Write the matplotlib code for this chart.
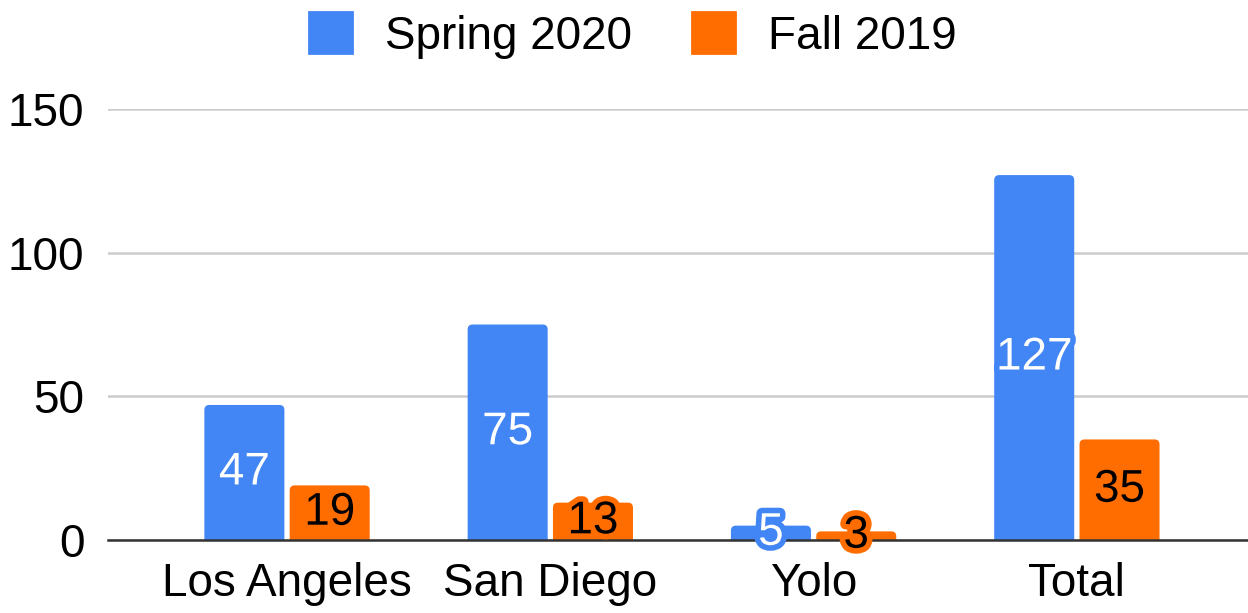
import matplotlib
matplotlib.use("Agg")
import matplotlib.pyplot as plt
import matplotlib.patheffects as pe
from matplotlib.patches import Patch, FancyBboxPatch
import numpy as np

plt.rcParams['font.family'] = ['Liberation Sans', 'DejaVu Sans']

categories = ["Los Angeles", "San Diego", "Yolo", "Total"]
spring_2020 = [47, 75, 5, 127]
fall_2019 = [19, 13, 3, 35]
series_names = ["Spring 2020", "Fall 2019"]
colors = ["#4285F4", "#FF6D01"]
y_ticks = [0, 50, 100, 150]

W, H = 1248, 613
fig = plt.figure(figsize=(W / 100, H / 100), dpi=100)
ax = fig.add_axes([108 / W, (H - 540) / H, (W - 108) / W, (540 - 109) / H])

x = np.arange(len(categories))
w = 0.304
off = 0.162
xlim = (-0.68, 3.65)
ylim = (0, 150)
ax.set_xlim(*xlim)
ax.set_ylim(*ylim)

# pixel scales for rounded corners
px_x = (xlim[1] - xlim[0]) / (W - 108)
px_y = (ylim[1] - ylim[0]) / (540 - 109)
aspect = px_y / px_x
rad = 5 * px_x

for xs, vals, c, tc in [(x - off, spring_2020, colors[0], "white"),
                        (x + off, fall_2019, colors[1], "black")]:
    bars = ax.bar(xs, vals, w, color=c, zorder=3)
    for r, v in zip(bars, vals):
        r.set_visible(False)
        p = FancyBboxPatch((r.get_x(), -3), r.get_width(), v + 3,
                           boxstyle=f"round,pad=0,rounding_size={rad}",
                           mutation_aspect=aspect, facecolor=c, edgecolor="none",
                           zorder=3)
        ax.add_patch(p)
        t = ax.text(r.get_x() + r.get_width() / 2, v / 2, str(v), ha="center", va="center",
                    fontsize=33, color=tc, zorder=5)
        t.set_path_effects([pe.withStroke(linewidth=8, foreground=c)])

ax.set_yticks(y_ticks)
ax.set_yticklabels([str(v) for v in y_ticks], fontsize=33)
ax.set_xticks(x)
ax.set_xticklabels(categories, fontsize=33)
ax.tick_params(axis="x", length=0, pad=16)
ax.tick_params(axis="y", length=0, pad=17)
ax.grid(axis="y", color="#cccccc", linewidth=1.8, zorder=0)
ax.set_axisbelow(True)
for s in ["top", "right", "left"]:
    ax.spines[s].set_visible(False)
ax.spines["bottom"].set_color("#333333")
ax.spines["bottom"].set_linewidth(1.8)
ax.spines["bottom"].set_zorder(4)

handles = [Patch(facecolor=c, edgecolor=c, linewidth=2, joinstyle="round") for c in colors]
fig.legend(handles, series_names, loc="upper center", bbox_to_anchor=(0.507, 1.047), ncol=2,
           frameon=False, fontsize=33, handlelength=0.95, handleheight=1.0,
           columnspacing=1.3, handletextpad=0.72)

fig.savefig("out.png", dpi=100)
